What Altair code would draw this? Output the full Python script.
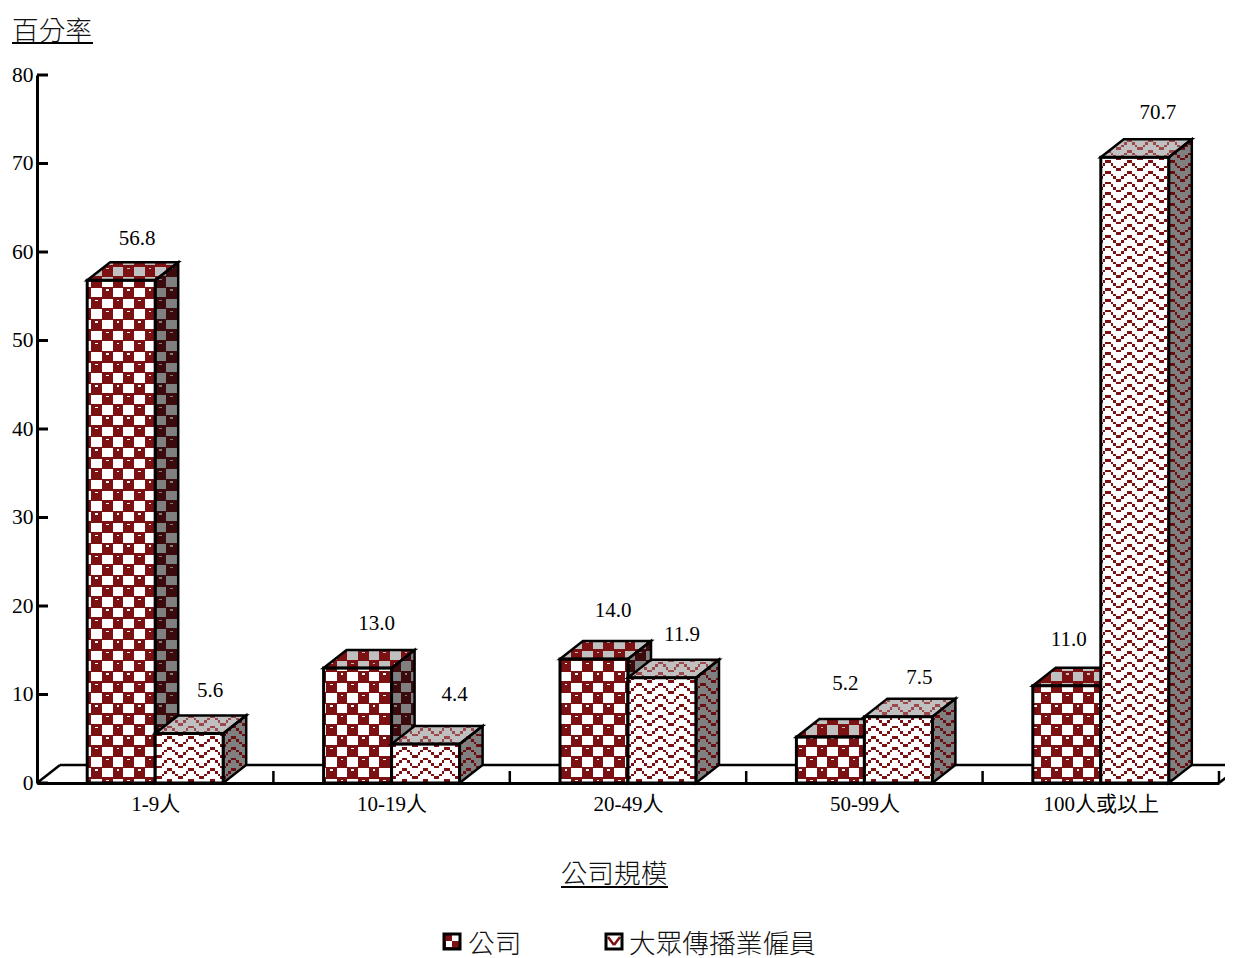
import json
import altair as alt
import pandas as pd

# ---- values
CATEGORIES = ["1-9人", "10-19人", "20-49人", "50-99人", "100人或以上"]
COMPANY = [56.8, 13.0, 14.0, 5.2, 11.0]
EMPLOYEES = [5.6, 4.4, 11.9, 7.5, 70.7]
Y_TICKS = [0, 10, 20, 30, 40, 50, 60, 70, 80]
SERIES_NAMES = ["公司", "大眾傳播業僱員"]
Y_TITLE = "百分率"
X_TITLE = "公司規模"
# label nudges in px relative to the centre of the front face / back top edge
NUDGE_COMPANY = [(16, -23), (19, -26), (19, -30), (15, -35), (2, -28)]
NUDGE_EMPLOYEES = [(21, -24), (29, -31), (20, -25), (21, -21), (23, -26)]

# ---- layout
W, H = 1182, 708
LEFT, TOP = 37, 75
PX_X = W / 5
PX_Y = H / 80
BAR_PX = 68
DX_PX, DY_PX = 23, 18
SERIF = "'Liberation Serif', 'Noto Sans CJK TC'"
RED = "#7b1113"
DARK = "#3b0a0c"
GRAY = "#808080"
LIGHT = "#c0c0c0"
BLACK = "#000000"


def dx(px):
    return px / PX_X


def dy(px):
    return px / PX_Y


def page_x(px):
    return (px - LEFT) / PX_X


def page_y(px):
    return (H - (px - TOP)) / PX_Y


SX = alt.Scale(domain=[0, 5], nice=False, zero=False)
SY = alt.Scale(domain=[0, 80], nice=False, zero=False)
XAXIS = alt.Axis(
    values=[0.5, 1.5, 2.5, 3.5, 4.5],
    labelExpr=json.dumps(CATEGORIES, ensure_ascii=False) + "[floor(datum.value)]",
    tickSize=0, domainWidth=3, domainColor=BLACK, labelFont=SERIF, labelFontSize=21,
    labelColor=BLACK, labelPadding=10, grid=False, title=None, labelAngle=0,
)
YAXIS = alt.Axis(
    values=Y_TICKS, tickSize=0, domainWidth=3, domainColor=BLACK, labelFont=SERIF,
    labelFontSize=21.5, labelColor=BLACK, labelPadding=4, grid=False, title=None,
)
X = alt.X("x:Q", scale=SX, axis=XAXIS)
Y = alt.Y("y:Q", scale=SY, axis=YAXIS)

# ---- pattern tiles
UNIT = 8 / 3
SUB = 4 / 3
WAVE = [0, 0, 1, 2, 3, 3, 2, 1]


def checker(i, j):
    """16 x 16 tile of 4/3 px cells: white squares, dark rounded cells with a small arc."""
    i %= 16
    j %= 16
    if i <= 7 and j <= 6:
        return False
    if 8 <= i <= 15 and 8 <= j <= 14:
        return False
    if 11 <= i <= 12 and j == 1:
        return False
    if 3 <= i <= 4 and j == 9:
        return False
    return True


def wave(i, j):
    return j % 4 == WAVE[i % 8]


def tile_fn(kind):
    if kind == "check":
        return lambda x, y: checker(int((x - 91) // SUB), int((y - 287.5) // SUB))
    return lambda x, y: wave(int((x - 1105) // UNIT), int((y - 160) // UNIT))


def scan(inside, x0, x1, y0, y1, tile, colour):
    """Scan a face row by row and keep its pattern runs, merged over equal rows."""
    out = []
    prev, start = None, None

    def flush(end):
        if prev:
            for a, b in prev:
                out.append(dict(x=page_x(a), x2=page_x(b), y=page_y(start), y2=page_y(end), c=colour))

    for y in range(y0, y1):
        runs, s = [], None
        for x in range(x0, x1 + 1):
            on = x < x1 and inside(x + 0.5, y + 0.5) and tile(x, y)
            if on and s is None:
                s = x
            if not on and s is not None:
                runs.append((s, x))
                s = None
        if runs != prev:
            flush(y)
            prev, start = runs, y
    flush(y1)
    return out


def series_layers(values, side_offset, kind, side_colour, top_colour, nudges):
    k = DY_PX / DX_PX
    tile = tile_fn(kind)
    fronts, sides, tops, pattern, labels = [], [], [], [], []
    for n, v in enumerate(values):
        xc = n + 0.5 + side_offset * dx(BAR_PX)
        xl_v, xr_v = xc - dx(BAR_PX) / 2, xc + dx(BAR_PX) / 2
        fronts.append(dict(x=xl_v, x2=xr_v, y=0.0, y2=v))
        sides.append(dict(x=xr_v, y=v, y2=0.0, f=n))
        sides.append(dict(x=xr_v + dx(DX_PX), y=v + dy(DY_PX), y2=dy(DY_PX), f=n))
        tops.append(dict(x=xl_v, x2=xr_v, y=v, f=n))
        tops.append(dict(x=xl_v + dx(DX_PX), x2=xr_v + dx(DX_PX), y=v + dy(DY_PX), f=n))
        nx, ny = nudges[n]
        labels.append(dict(x=xc + dx(nx), y=v + dy(DY_PX) - dy(ny), t=f"{v:.1f}"))

        xl = round(LEFT + xl_v * PX_X)
        xr = round(LEFT + xr_v * PX_X)
        y0 = TOP + H
        yv = TOP + H - v * PX_Y

        pattern += scan(lambda x, y: True, xl, xr, round(yv), y0, tile, RED)

        def in_side(x, y, xr=xr, y0=y0, yv=yv):
            t = (x - xr) * k
            return yv - t <= y <= y0 - t

        pattern += scan(in_side, xr, xr + DX_PX, round(yv - DY_PX), y0, tile, side_colour)

        def in_top(x, y, xl=xl, xr=xr, yv=yv):
            t = (yv - y) / k
            return 0 <= t and xl + t <= x <= xr + t

        pattern += scan(in_top, xl, xr + DX_PX, round(yv - DY_PX), round(yv), tile, top_colour)

    F, S, T, L = map(pd.DataFrame, (fronts, sides, tops, labels))
    P = pd.DataFrame(pattern)
    Y2 = alt.Y2("y2:Q")
    X2 = alt.X2("x2:Q")
    ys = alt.Y("y:Q", scale=SY, axis=YAXIS, stack=None)

    def side(**style):
        return alt.Chart(S).mark_area(**style).encode(x=X, y=ys, y2=Y2, detail="f:N")

    def top(**style):
        return alt.Chart(T).mark_area(orient="horizontal", **style).encode(
            x=alt.X("x:Q", scale=SX, axis=XAXIS, stack=None), x2=X2, y=Y, detail="f:N")

    def front(**style):
        return alt.Chart(F).mark_rect(**style).encode(x=X, x2=X2, y=Y, y2=Y2)

    outline = dict(fill="transparent", stroke=BLACK, strokeWidth=2.5, strokeJoin="miter")
    layers = [
        side(fill=GRAY),
        top(fill=LIGHT),
        front(fill="#ffffff"),
        alt.Chart(P).mark_rect().encode(
            x=X, x2=X2, y=Y, y2=Y2, fill=alt.Fill("c:N", scale=None)),
        side(**outline),
        top(**outline),
        front(fill="transparent", stroke=BLACK, strokeWidth=3),
    ]
    text = alt.Chart(L).mark_text(
        font=SERIF, fontSize=21, color=BLACK, align="center", baseline="middle"
    ).encode(x=X, y=Y, text="t:N")
    return layers, text


def rules(rows, width, colour=BLACK):
    df = pd.DataFrame(rows, columns=["x", "x2", "y", "y2"])
    return alt.Chart(df).mark_rule(color=colour, strokeWidth=width).encode(
        x=X, x2=alt.X2("x2:Q"), y=Y, y2=alt.Y2("y2:Q"))


def label(text, px, py, size, align="center"):
    df = pd.DataFrame([dict(x=page_x(px), y=page_y(py), t=text)])
    return alt.Chart(df).mark_text(
        font=SERIF, fontSize=size, color="#111111", align=align, baseline="middle", fontWeight=300,
    ).encode(x=X, y=Y, text="t:N")


def box(x0, x1, y0, y1, fill, **style):
    df = pd.DataFrame([dict(x=page_x(x0), x2=page_x(x1), y=page_y(y0), y2=page_y(y1))])
    return alt.Chart(df).mark_rect(fill=fill, **style).encode(
        x=X, x2=alt.X2("x2:Q"), y=Y, y2=alt.Y2("y2:Q"))


# ---- floor and ticks
floor = rules(
    [(0, dx(DX_PX), 0, dy(DY_PX)),
     (dx(DX_PX), 5 + dx(DX_PX), dy(DY_PX), dy(DY_PX)),
     (5, 5 + dx(DX_PX), 0, dy(DY_PX))], 2.5)
x_ticks = rules([(t, t, 0, dy(12)) for t in range(1, 6)], 2.5)
y_ticks = rules([(0, dx(11), t, t) for t in Y_TICKS], 3)

company, company_text = series_layers(COMPANY, -0.5, "check", DARK, RED, NUDGE_COMPANY)
staff, staff_text = series_layers(EMPLOYEES, 0.5, "wave", "#6a0f11", "#9a4a4c", NUDGE_EMPLOYEES)

# ---- titles
titles = [
    label(Y_TITLE, 12, 31.5, 26.7, "left"),
    rules([(page_x(12), page_x(93), page_y(43), page_y(43))], 2),
    label(X_TITLE, 614, 875, 26.7),
    rules([(page_x(561), page_x(668), page_y(887), page_y(887))], 2),
]

# ---- legend keys
key_a = [
    box(444, 460, 934, 949, RED),
    box(452, 459, 935, 941, "#ffffff"),
    box(446, 452, 941, 947, "#ffffff"),
    box(444, 460, 934, 949, "transparent", stroke=BLACK, strokeWidth=3),
]
key_b = [
    box(606, 622, 934, 949, "#ffffff"),
    rules([(page_x(608), page_x(614), page_y(937), page_y(945)),
           (page_x(614), page_x(620), page_y(945), page_y(937))], 2.5, RED),
    box(606, 622, 934, 949, "transparent", stroke=BLACK, strokeWidth=3),
]
legend_text = [
    label(SERIES_NAMES[0], 468, 944.5, 26.7, "left"),
    label(SERIES_NAMES[1], 629, 944.5, 26.7, "left"),
]

chart = alt.layer(
    floor, x_ticks, y_ticks,
    *company, *staff, company_text, staff_text,
    *titles, *key_a, *key_b, *legend_text,
).properties(
    width=W, height=H,
    padding={"left": LEFT - 8, "top": TOP - 8, "right": 6, "bottom": 958 - TOP - H},
    autosize=alt.AutoSizeParams(type="none"),
    background="#ffffff",
).configure_view(stroke=None)

chart.save("out.html", embed_options={"renderer": "svg", "actions": False})
